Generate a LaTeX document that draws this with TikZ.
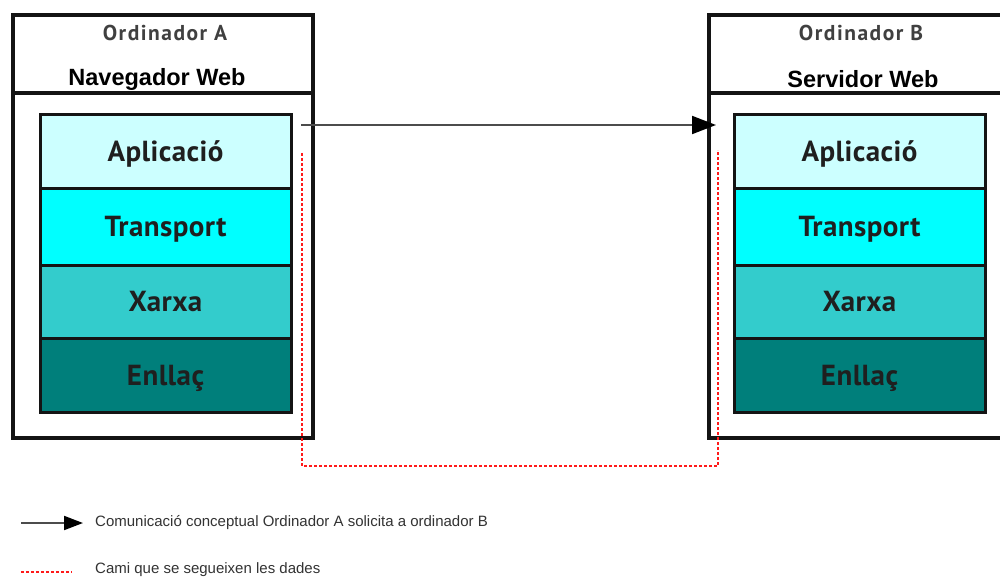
\documentclass[tikz,border=0pt]{standalone}
\usepackage{fontspec}
\setmainfont{Liberation Sans}
\newfontfamily\dinfont{PT Sans}
\usetikzlibrary{arrows.meta}
\definecolor{appfill}{HTML}{CCFFFF}
\definecolor{trfill}{HTML}{00FFFF}
\definecolor{netfill}{HTML}{33CCCC}
\definecolor{linkfill}{HTML}{007F7B}
\definecolor{edge}{HTML}{141414}
\definecolor{legendtext}{HTML}{333333}
\definecolor{pathred}{HTML}{FF1A1A}

\begin{document}
\begin{tikzpicture}[x=1pt,y=-1pt,
  hostbox/.style={draw=edge,line width=3.5pt,fill=white,minimum width=300pt,
    minimum height=423pt,inner sep=0pt},
  layer/.style={draw=edge,line width=3pt,minimum width=251pt,inner sep=0pt,
    text height=20pt,text depth=0pt,
    font=\dinfont\bfseries\fontsize{29}{31}\selectfont\addfontfeature{LetterSpace=1.5},text=black!88},
  hosttitle/.style={font=\dinfont\bfseries\fontsize{21.5}{23}\selectfont\addfontfeature{LetterSpace=7},
    text=black!75,inner sep=0pt},
  roletitle/.style={font=\bfseries\fontsize{23.5}{26}\selectfont,text=black,inner sep=0pt},
  concept/.style={draw=black!70,line width=2pt,
    -{Triangle[length=24pt,width=18pt,color=black]}},
  datapath/.style={draw=pathred,line width=2.5pt,dash pattern=on 3pt off 2pt},
  legendlabel/.style={anchor=west,font=\fontsize{15}{17}\selectfont,text=legendtext,inner sep=0pt}]
\useasboundingbox (0,0) rectangle (1000,580);
\clip (0,0) rectangle (1000,580);
\fill[white] (0,0) rectangle (1000,580);

% host A
\node[hostbox] (hostA) at (163,226.5) {};
\draw[draw=edge,line width=3.5pt] (hostA.west |- 0,93) coordinate (hdrAl) -- (hostA.east |- 0,93) coordinate (hdrAr);
\node[hosttitle] (titleA) at (165,33) {Ordinador A};
\node[roletitle] (roleA) at (157,79) {Navegador Web};
\node[layer,fill=appfill,minimum height=73pt] (appA) at (165.5,151.5) {Aplicació};
\node[layer,fill=trfill,minimum height=77pt] (trA) at (165.5,226.5) {Transport};
\node[layer,fill=netfill,minimum height=73pt] (netA) at (165.5,301.5) {Xarxa};
\node[layer,fill=linkfill,minimum height=74pt] (linkA) at (165.5,375) {Enllaç};

% host B
\node[hostbox] (hostB) at (859,226.5) {};
\draw[draw=edge,line width=3.5pt] (hostB.west |- 0,93) coordinate (hdrBl) -- (hostB.east |- 0,93) coordinate (hdrBr);
\node[hosttitle] (titleB) at (861,33) {Ordinador B};
\node[roletitle] (roleB) at (863,79) {Servidor Web};
\node[layer,fill=appfill,minimum height=73pt] (appB) at (859.5,151.5) {Aplicació};
\node[layer,fill=trfill,minimum height=77pt] (trB) at (859.5,226.5) {Transport};
\node[layer,fill=netfill,minimum height=73pt] (netB) at (859.5,301.5) {Xarxa};
\node[layer,fill=linkfill,minimum height=74pt] (linkB) at (859.5,375) {Enllaç};

% conceptual request A -> B
\coordinate (reqA) at (301,125);
\coordinate (reqB) at (716,125);
\draw[concept] (reqA) -- (reqB);

% path followed by the data
\coordinate (downA) at (302,153);
\coordinate (baseA) at (302,466);
\coordinate (baseB) at (718,466);
\coordinate (upB) at (718,150);
\draw[datapath] (downA) -- (baseA) -- (baseB) -- (upB);

% legend
\coordinate (lgArrowS) at (21,523);
\coordinate (lgArrowE) at (83,523);
\draw[draw=black!70,line width=2pt,-{Triangle[length=19pt,width=14pt,color=black]}] (lgArrowS) -- (lgArrowE);
\node[legendlabel] (lgConcept) at (95,523) {Comunicació conceptual Ordinador A solicita a ordinador B};
\coordinate (lgDotS) at (21,572);
\coordinate (lgDotE) at (72,572);
\draw[datapath] (lgDotS) -- (lgDotE);
\node[legendlabel] (lgPath) at (95,570) {Cami que se segueixen les dades};
\end{tikzpicture}
\end{document}
